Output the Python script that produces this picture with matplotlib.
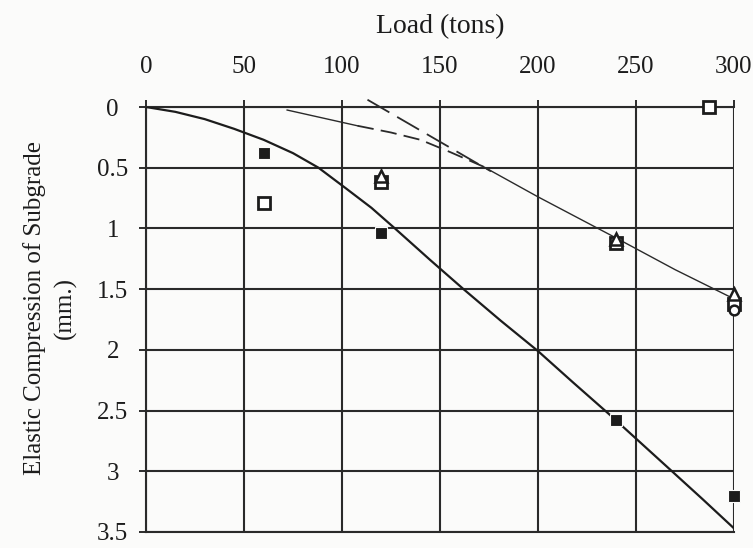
import matplotlib
matplotlib.use("Agg")
import matplotlib.pyplot as plt
import numpy as np

# Load (tons) vs elastic compression of subgrade (mm)
load_ticks = [0, 50, 100, 150, 200, 250, 300]
comp_ticks = [0, 0.5, 1, 1.5, 2, 2.5, 3, 3.5]
comp_tick_labels = ["0", "0.5", "1", "1.5", "2", "2.5", "3", "3.5"]

# measured points
filled_x = [60, 120, 240, 300]
filled_y = [0.38, 1.04, 2.58, 3.20]

open_sq_x = [60, 120, 240, 287, 300]
open_sq_y = [0.79, 0.62, 1.12, 0.0, 1.62]

tri_x = [120, 240, 300]
tri_y = [0.57, 1.09, 1.54]

circ_x = [300]
circ_y = [1.67]

# fitted curves
curve1_x = [0, 15, 30, 45, 60, 75, 88, 102, 115, 127, 145, 162, 181, 200, 218, 237, 252, 267, 284, 300]
curve1_y = [0, 0.04, 0.10, 0.18, 0.27, 0.38, 0.50, 0.67, 0.83, 1.00, 1.26, 1.50, 1.76, 2.01, 2.27, 2.54, 2.76, 2.98, 3.23, 3.47]

curve2_x = [72, 90, 108, 125, 140, 155, 172, 200, 240, 270, 300]
curve2_y = [0.025, 0.09, 0.155, 0.21, 0.27, 0.37, 0.49, 0.74, 1.08, 1.34, 1.58]

tangent_x = [113, 176]
tangent_y = [-0.06, 0.53]

plt.rcParams["font.family"] = ["Liberation Serif", "DejaVu Serif"]

BG = "#fbfbfa"
INK = "#1c1c1c"
GRID = "#2a2a2a"

fig = plt.figure(figsize=(7.53, 5.48), dpi=100, facecolor=BG)
ax = fig.add_axes([146 / 753, 1 - 532 / 548, (734 - 146) / 753, (532 - 107) / 548])
ax.set_facecolor(BG)

ax.set_xlim(0, 300)
ax.set_ylim(3.5, 0)
ax.xaxis.tick_top()
ax.set_xticks(load_ticks)
ax.set_yticks(comp_ticks)
ax.set_yticklabels(comp_tick_labels)
ax.tick_params(axis="both", labelsize=18, colors=INK, length=5, width=1.3,
               direction="out")
ax.tick_params(axis="x", pad=16)
ax.tick_params(axis="y", pad=19)
for lbl in ax.get_yticklabels():
    lbl.set_horizontalalignment("center")
ax.grid(True, color=GRID, linewidth=1.5)
for side in ["top", "left", "right", "bottom"]:
    ax.spines[side].set_color(GRID)
    ax.spines[side].set_linewidth(1.5)
ax.spines["right"].set_visible(False)

# main curve
ax.plot(curve1_x, curve1_y, color=INK, linewidth=1.6, zorder=3)

# second curve: thin solid start, dashed middle, thin solid end
cx = np.array(curve2_x)
cy = np.array(curve2_y)
ax.plot(cx[:3], cy[:3], color=GRID, linewidth=1.0, zorder=3)
ax.plot(cx[2:7], cy[2:7], color=GRID, linewidth=1.3,
        linestyle=(0, (9, 4)), zorder=3)
ax.plot(cx[6:], cy[6:], color=GRID, linewidth=1.0, zorder=3)

# straight-line extension
ax.plot(tangent_x, tangent_y, color=GRID, linewidth=1.3,
        linestyle=(0, (14, 5)), clip_on=False, zorder=3)

# data points
ax.plot(filled_x, filled_y, linestyle="none", marker="s", markersize=8.5,
        color=INK, markeredgecolor=BG, markeredgewidth=0.8,
        clip_on=False, zorder=5)
ax.plot(open_sq_x, open_sq_y, linestyle="none", marker="s", markersize=8.5,
        markerfacecolor="white", markeredgecolor=INK, markeredgewidth=2.0,
        clip_on=False, zorder=5)
ax.plot(tri_x, tri_y, linestyle="none", marker="^", markersize=8.5,
        markerfacecolor="white", markeredgecolor=INK, markeredgewidth=1.8,
        clip_on=False, zorder=6)
ax.plot(circ_x, circ_y, linestyle="none", marker="o", markersize=7,
        markerfacecolor="white", markeredgecolor=INK, markeredgewidth=1.8,
        clip_on=False, zorder=6)

fig.text(440 / 753, 1 - 27 / 548, "Load (tons)", ha="center", va="center",
         fontsize=20, color=INK)
fig.text(50 / 753, 1 - 308 / 548, "Elastic Compression of Subgrade\n(mm.)",
         ha="center", va="center", rotation=90, fontsize=18, color=INK,
         linespacing=1.45)

fig.savefig("out.png", dpi=100, facecolor=fig.get_facecolor())
